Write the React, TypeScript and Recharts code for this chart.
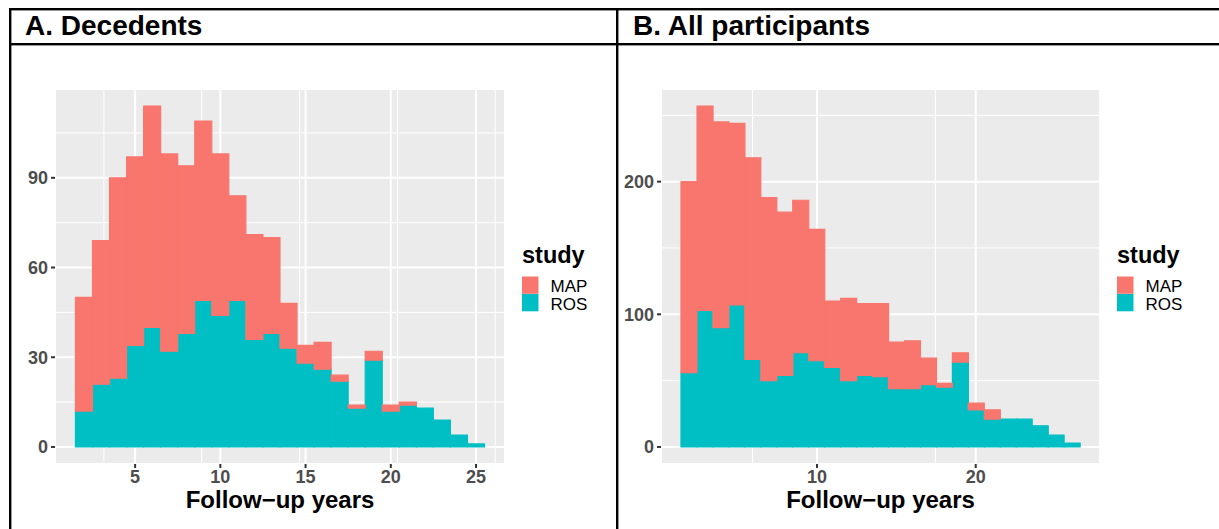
import React from 'react';
import { BarChart, Bar, XAxis, YAxis, CartesianGrid } from 'recharts';

const FONT = '"Liberation Sans", Arial, Helvetica, sans-serif';
const MAP_COLOR = '#F8766D';
const ROS_COLOR = '#00BFC4';
const PANEL_BG = '#EBEBEB';
const TICK_COLOR = '#4D4D4D';

// ---------- Panel A: Decedents ----------
const decedentYears = [2, 3, 4, 5, 6, 7, 8, 9, 10, 11, 12, 13, 14, 15, 16, 17, 18, 19, 20, 21, 22, 23, 24, 25];
const decedentROS = [12, 21, 23, 34, 40, 32, 38, 49, 44, 49, 36, 38, 33, 28, 26, 22, 13, 29, 12, 14, 13, 9, 4, 1];
const decedentMAP = [38, 48, 67, 63, 74, 66, 56, 60, 54, 35, 35, 32, 15, 6, 9, 2, 1, 3, 2, 1, 0, 0, 0, 0];
const decedentXTicks = [5, 10, 15, 20, 25];
const decedentXMinor = [2.5, 7.5, 12.5, 17.5, 22.5];
const decedentYTicks = [0, 30, 60, 90];
const decedentYMinor = [15, 45, 75, 105];
const decedentXDomain: [number, number] = [0.3, 26.7];
const decedentYDomain: [number, number] = [-5.7, 119.7];

// ---------- Panel B: All participants ----------
const allYears = [1.93, 2.94, 3.94, 4.95, 5.95, 6.96, 7.97, 8.97, 9.98, 10.98, 11.99, 12.99, 14.0, 15.0, 16.01, 17.02, 18.02, 19.03, 20.03, 21.04, 22.04, 23.05, 24.06, 25.06, 26.07];
const allROS = [56, 103, 90, 107, 66, 50, 54, 71, 65, 60, 50, 54, 53, 44, 44, 47, 45, 64, 28, 21, 21, 21, 16, 9, 3];
const allMAP = [144, 154, 155, 137, 152, 138, 123, 115, 99, 50, 62, 54, 55, 35, 36, 20, 3, 7, 5, 7, 0, 0, 0, 0, 0];
const allXTicks = [10, 20];
const allXMinor = [5, 15, 25];
const allYTicks = [0, 100, 200];
const allYMinor = [50, 150, 250];
const allXDomain: [number, number] = [0.17, 27.83];
const allYDomain: [number, number] = [-12.85, 269.85];

const studies = ['MAP', 'ROS'];
const studyColors = [MAP_COLOR, ROS_COLOR];
const axisTitle = 'Follow\u2212up years';

type PanelProps = {
  left: number;
  width: number;
  yAxisWidth: number;
  marginRight: number;
  years: number[];
  ros: number[];
  map: number[];
  xTicks: number[];
  xMinor: number[];
  yTicks: number[];
  yMinor: number[];
  xDomain: [number, number];
  yDomain: [number, number];
};

function Panel(p: PanelProps) {
  const data = p.years.map((x, i) => ({ x, ROS: p.ros[i], MAP: p.map[i] }));
  const tickStyle = { fill: TICK_COLOR, fontSize: 18, fontWeight: 'bold' as const, fontFamily: FONT };
  return (
    <div style={{ position: 'absolute', left: p.left, top: 0 }}>
      <BarChart
        width={p.width}
        height={529}
        data={data}
        margin={{ top: 89, right: p.marginRight, bottom: 0, left: 0 }}
        barCategoryGap={0}
        barGap={0}
      >
        <XAxis xAxisId="minor" type="number" domain={p.xDomain} ticks={p.xMinor} allowDataOverflow hide />
        <YAxis yAxisId="minor" type="number" domain={p.yDomain} ticks={p.yMinor} allowDataOverflow hide />
        <CartesianGrid xAxisId="minor" yAxisId="minor" stroke="#FFFFFF" strokeWidth={1} fill={PANEL_BG} fillOpacity={1} />
        <CartesianGrid stroke="#FFFFFF" strokeWidth={2} />
        <XAxis
          dataKey="x"
          type="number"
          domain={p.xDomain}
          ticks={p.xTicks}
          allowDataOverflow
          height={65}
          axisLine={false}
          tickLine={{ stroke: '#333333', strokeWidth: 2 }}
          tickSize={4}
          tickMargin={2}
          tick={tickStyle}
          interval={0}
          label={{
            value: axisTitle,
            position: 'insideBottom',
            offset: 21,
            style: { fill: '#000000', fontSize: 24, fontWeight: 'bold', fontFamily: FONT },
          }}
        />
        <YAxis
          type="number"
          domain={p.yDomain}
          ticks={p.yTicks}
          allowDataOverflow
          width={p.yAxisWidth}
          axisLine={false}
          tickLine={{ stroke: '#333333', strokeWidth: 2 }}
          tickSize={4}
          tickMargin={3}
          tick={tickStyle}
          interval={0}
        />
        <Bar dataKey="ROS" stackId="s" fill={ROS_COLOR} stroke={ROS_COLOR} strokeWidth={1.2} isAnimationActive={false} />
        <Bar dataKey="MAP" stackId="s" fill={MAP_COLOR} stroke={MAP_COLOR} strokeWidth={1.2} isAnimationActive={false} />
      </BarChart>
    </div>
  );
}

function LegendBlock({ x }: { x: number }) {
  return (
    <g>
      <text x={x} y={263} fontFamily={FONT} fontSize={23.5} fontWeight="bold" fill="#000">study</text>
      {studies.map((s, i) => (
        <g key={s}>
          <rect x={x} y={276.5 + i * 17.5} width={16.5} height={17.3} fill={studyColors[i]} />
          <text x={x + 28.5} y={291.5 + i * 18} fontFamily={FONT} fontSize={17} fill="#000">{s}</text>
        </g>
      ))}
    </g>
  );
}

export default function App() {
  return (
    <div style={{ position: 'absolute', left: 0, top: 0, width: 1219, height: 529, background: '#FFFFFF', overflow: 'hidden' }}>
      <Panel
        left={0}
        width={612}
        yAxisWidth={55}
        marginRight={107}
        years={decedentYears}
        ros={decedentROS}
        map={decedentMAP}
        xTicks={decedentXTicks}
        xMinor={decedentXMinor}
        yTicks={decedentYTicks}
        yMinor={decedentYMinor}
        xDomain={decedentXDomain}
        yDomain={decedentYDomain}
      />
      <Panel
        left={612}
        width={607}
        yAxisWidth={49}
        marginRight={119}
        years={allYears}
        ros={allROS}
        map={allMAP}
        xTicks={allXTicks}
        xMinor={allXMinor}
        yTicks={allYTicks}
        yMinor={allYMinor}
        xDomain={allXDomain}
        yDomain={allYDomain}
      />
      <svg width={1219} height={529} style={{ position: 'absolute', left: 0, top: 0, pointerEvents: 'none' }}>
        <rect x={9} y={8} width={1210} height={2.4} fill="#000" />
        <rect x={9} y={43} width={1210} height={2.4} fill="#000" />
        <rect x={9} y={8} width={2.4} height={521} fill="#000" />
        <rect x={616} y={8} width={2.4} height={521} fill="#000" />
        <text x={25} y={35} fontFamily={FONT} fontSize={28} fontWeight="bold" fill="#000">A. Decedents</text>
        <text x={633} y={35} fontFamily={FONT} fontSize={28} fontWeight="bold" fill="#000">B. All participants</text>
        <LegendBlock x={522} />
        <LegendBlock x={1117} />
      </svg>
    </div>
  );
}
